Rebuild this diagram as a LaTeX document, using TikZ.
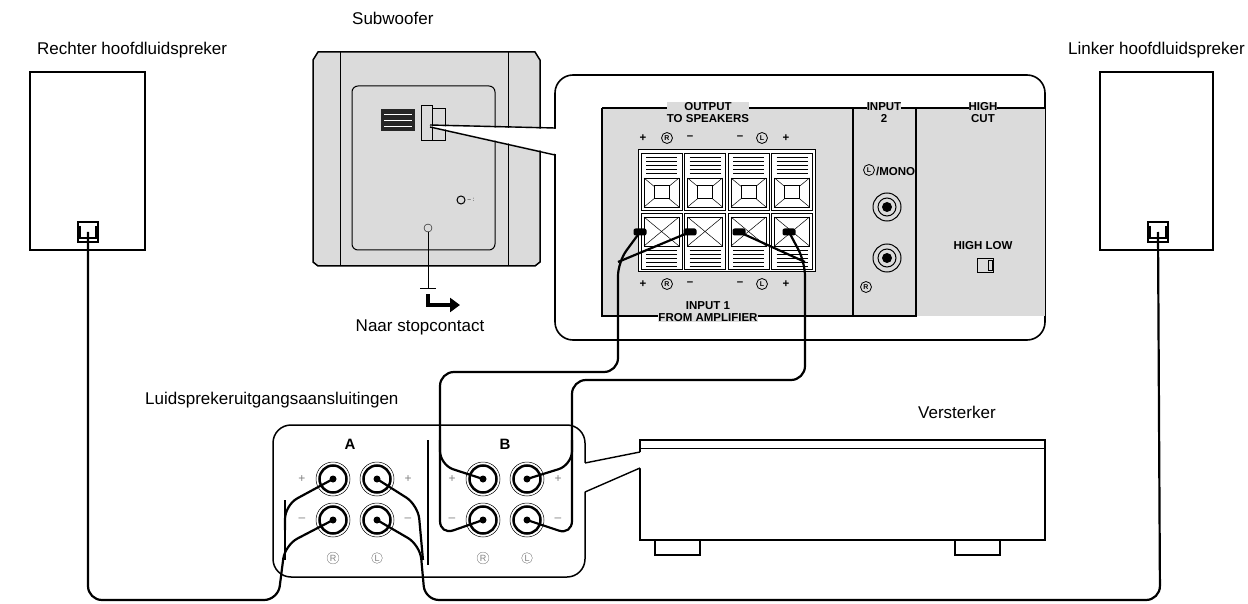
\documentclass[tikz,border=0pt]{standalone}
\usepackage{fontspec}
\setmainfont{Liberation Sans}
\usetikzlibrary{arrows.meta}
\definecolor{panel}{gray}{0.86}
\definecolor{dark}{gray}{0.15}
\begin{document}
\begin{tikzpicture}[x=1pt,y=-1pt,
  lbl/.style={font=\fontsize{17}{19}\selectfont,inner sep=0},
  sm/.style={font=\bfseries\fontsize{11.5}{12}\selectfont,inner sep=0,fill=panel},
  cl/.style={circle,draw,line width=0.8pt,inner sep=0,minimum size=11pt,font=\bfseries\fontsize{7}{7}\selectfont,fill=panel},
  wire/.style={line width=2.2pt,black,rounded corners=14pt},
  frame/.style={line width=1.6pt,rounded corners=18pt,fill=white},
]
\useasboundingbox (0,0) rectangle (1248,604);
% ---------- speakers
\node[lbl,anchor=west] (rl) at (37,50) {Rechter hoofdluidspreker};
\node[lbl,anchor=east] (ll) at (1245,50) {Linker hoofdluidspreker};
\draw[line width=1.3pt] (30,72) rectangle (145,250);
\node[draw,line width=1.3pt,minimum width=20pt,minimum height=20pt,inner sep=0] (rt) at (88,232) {};
\draw[line width=1.3pt] (80,226) -- (80,238) -- (96,238) -- (96,226);
\draw[line width=1.3pt] (1100,72) rectangle (1213,250);
\node[draw,line width=1.3pt,minimum width=20pt,minimum height=20pt,inner sep=0] (lt) at (1158,232) {};
\draw[line width=1.3pt] (1150,226) -- (1150,238) -- (1166,238) -- (1166,226);
% ---------- subwoofer
\node[lbl,anchor=west] (sw) at (352,18) {Subwoofer};
\fill[panel] (318,52) -- (535,52) -- (540,60) -- (540,262) -- (535,266) -- (318,266) -- (313,262) -- (313,60) -- cycle;
\draw[line width=1.5pt] (318,52) -- (535,52) -- (540,60) -- (540,262) -- (535,266) -- (318,266) -- (313,262) -- (313,60) -- cycle;
\draw[line width=1pt] (340,52) -- (340,266) (508,52) -- (508,266);
\draw[line width=1pt,rounded corners=6pt] (352,86) rectangle (495,250);
\node[fill=dark,minimum width=34pt,minimum height=22pt,inner sep=0] (sterm) at (398,120) {};
\foreach \yy in {114,120,126}{\draw[white,line width=0.5pt] (384,\yy) -- (412,\yy);}
\draw (421,105) rectangle (432,140) (432,108) rectangle (445,140);
\node[circle,draw,line width=1pt,minimum size=8pt,inner sep=0] (knob) at (461,200) {};
\node[font=\fontsize{6}{6}\selectfont,inner sep=0] at (471,200) {-- :};
\node[circle,draw,minimum size=8pt,inner sep=0] (ac) at (428,228) {};
\coordinate (ac2) at (428,288);
\draw[line width=1pt] (ac) -- (ac2);
\draw[line width=0.8pt] (420,288) -- (436,288);
\draw[line width=4pt,-{Triangle[length=10pt,width=14pt]}] (428,294) -- (428,305) -- (460,305);
\node[lbl,anchor=north] (naar) at (420,320) {Naar stopcontact};
% ---------- callout
\draw[frame] (555,75) rectangle (1045,340);
\coordinate (cp1) at (555,128);
\coordinate (cp2) at (555,155);
\fill[white] (430,126) -- (556,129) -- (556,154) -- cycle;
\draw[line width=1.4pt] (430,125) -- (cp1) (430,127) -- (cp2);
% panel
\fill[panel] (602,108) rectangle (1045,316);
\draw[line width=1.2pt] (602,108) -- (1045,108) (602,108) -- (602,316) -- (853,316);
\draw[line width=1.6pt] (853,108) -- (853,316) -- (916,316) -- (916,108);
\node[sm,align=center,anchor=north] (out) at (708,102) {OUTPUT\\TO SPEAKERS};
\node[sm,align=center,anchor=north] (in2) at (884,102) {INPUT\\2};
\node[sm,align=center,anchor=north] (hc) at (983,102) {HIGH\\CUT};
\node[sm,align=center,anchor=south] (in1) at (708,322) {INPUT 1\\FROM AMPLIFIER};
\foreach \y in {138,284}{
  \node[sm] at (643,\y) {+};
  \node[cl] at (667,\y) {R};
  \node[sm] at (690,\y) {--};
  \node[sm] at (740,\y) {--};
  \node[cl] at (762,\y) {L};
  \node[sm] at (786,\y) {+};}
% terminal block
\draw[line width=1pt,fill=white] (638,150) rectangle (815,272);
\foreach \i in {0,1,2,3}{
  \pgfmathsetmacro{\xa}{641+\i*43.5}
  \pgfmathsetmacro{\xb}{\xa+41}
  \draw[line width=0.7pt] (\xa,153) rectangle (\xb,210);
  \draw[line width=0.7pt] (\xa,213) rectangle (\xb,269);
  \foreach \yy in {157,161,165,169,173}{\draw[line width=0.5pt] (\xa+5,\yy) -- (\xb-5,\yy);}
  \foreach \yy in {250,254,258,262,266}{\draw[line width=0.5pt] (\xa+5,\yy) -- (\xb-5,\yy);}
  \draw[line width=0.6pt] (\xa+3,178) rectangle (\xb-3,207);
  \draw[line width=0.6pt] (\xa+3,217) rectangle (\xb-3,246);
  \draw[line width=0.5pt] (\xa+3,178) -- (\xb-3,207) (\xa+3,207) -- (\xb-3,178);
  \draw[line width=0.5pt] (\xa+3,217) -- (\xb-3,246) (\xa+3,246) -- (\xb-3,217);
  \draw[line width=0.7pt,fill=white] (\xa+13,185) rectangle (\xb-13,198);
}
\node[fill=black,minimum width=13pt,minimum height=7pt,inner sep=0,rounded corners=2pt] (oR1) at (640,232) {};
\node[fill=black,minimum width=13pt,minimum height=7pt,inner sep=0,rounded corners=2pt] (oR2) at (690,232) {};
\node[fill=black,minimum width=13pt,minimum height=7pt,inner sep=0,rounded corners=2pt] (oL1) at (739,232) {};
\node[fill=black,minimum width=13pt,minimum height=7pt,inner sep=0,rounded corners=2pt] (oL2) at (789,232) {};
% input 2
\node[cl] at (869,170) {L};
\node[sm,anchor=west] at (876,171) {/MONO};
\foreach \y/\n in {207/rca1,258/rca2}{
  \node[circle,draw,line width=1pt,minimum size=28pt,inner sep=0] (\n) at (887,\y) {};
  \draw[line width=1pt] (887,\y) circle (9);
  \fill (887,\y) circle (5);}
\node[cl] at (866,287) {R};
\node[sm] at (983,246) {HIGH LOW};
\node[draw,line width=0.8pt,minimum width=16pt,minimum height=14pt,inner sep=0] (sw2) at (985,265) {};
\draw (988,260) rectangle (992,270);
% ---------- amplifier terminals
\node[lbl,anchor=west] (lu) at (145,400) {Luidsprekeruitgangsaansluitingen};
\draw[frame,line width=1.5pt,fill=none] (273,425) rectangle (585,577);
\draw[line width=1.5pt] (428,440) -- (428,565);
\node[font=\bfseries\fontsize{15}{15}\selectfont] (A) at (350,444) {A};
\node[font=\bfseries\fontsize{15}{15}\selectfont] (B) at (505,444) {B};
\foreach \n/\x/\y in {aRp/333/479,aLp/377/479,aRm/333/520,aLm/377/520,bRp/483/479,bLp/527/479,bRm/483/520,bLm/527/520}{
  \draw[line width=0.5pt] (\x,\y) circle (17);
  \node[circle,draw,line width=2.5pt,minimum size=27pt,inner sep=0] (\n) at (\x,\y) {};
  \fill (\x,\y) circle (3.5);}
\foreach \x/\s in {302/+,408/+,452/+,558/+}{\node[font=\fontsize{12}{12}\selectfont,gray] at (\x,479) {\s};}
\foreach \x/\s in {302/--,408/--,452/--,558/--}{\node[font=\fontsize{12}{12}\selectfont,gray] at (\x,520) {\s};}
\foreach \x/\s in {333/R,377/L,483/R,527/L}{\node[font=\fontsize{9}{9}\selectfont,gray,circle,draw,inner sep=1pt] at (\x,558) {\s};}
% amplifier
\node[lbl,anchor=west] (vs) at (918,412) {Versterker};
\draw[line width=1.4pt] (640,440) rectangle (1045,540);
\draw[line width=0.8pt] (640,448) -- (1045,448);
\draw[line width=1.4pt,fill=white] (655,540) rectangle (700,555) (955,540) rectangle (1000,555);
\fill[white] (584,463) -- (641,452) -- (641,468) -- (584,492) -- cycle;
\draw[line width=1.4pt] (585,463) -- (640,452) (585,492) -- (640,468);
% ---------- wires
\draw[wire] (oR1.center) -- (618,262) -- (618,372) -- (440,372) -- (440,465) -- (bRp.center);
\draw[wire] (oR2.center) -- (618,262);
\draw[wire] (440,440) -- (440,535) -- (bRm.center);
\draw[wire] (oL2.center) -- (805,262) -- (805,380) -- (572,380) -- (572,465) -- (bLp.center);
\draw[wire] (oL1.center) -- (805,262);
\draw[wire] (572,440) -- (572,535) -- (bLm.center);
\draw[wire] (aRp.center) -- (285,505) -- (285,530);
\draw[wire] (aRm.center) -- (285,545) -- (278,600) -- (88,600) -- (rt.center);
\draw[wire] (285,500) -- (285,560);
\draw[wire] (aLp.center) -- (418,505) -- (423,560);
\draw[wire] (aLm.center) -- (420,545) -- (425,600) -- (1160,600) -- (lt.center);
\end{tikzpicture}
\end{document}
